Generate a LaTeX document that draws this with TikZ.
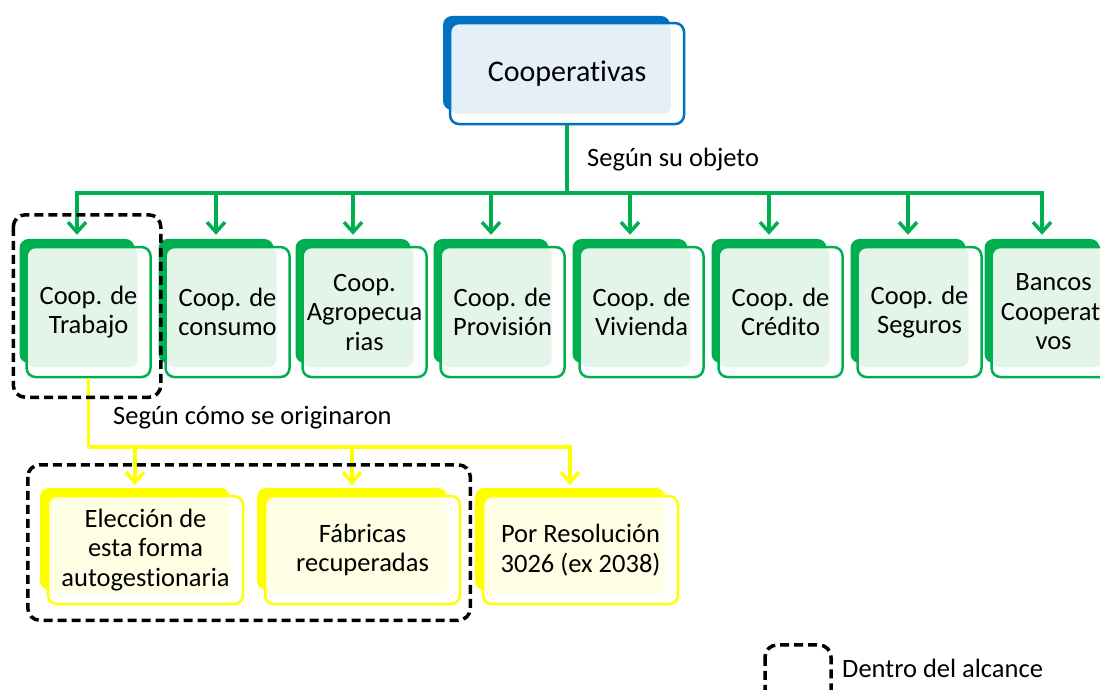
\documentclass[tikz,border=0pt]{standalone}
\usepackage{fontspec}
\setmainfont{Carlito}[Ligatures=NoCommon]
\usetikzlibrary{arrows.meta,positioning}

\definecolor{coopblue}{HTML}{0070C0}
\definecolor{coopbluefill}{HTML}{E5EFF8}
\definecolor{coopgreen}{HTML}{00B050}
\definecolor{coopgreenfill}{HTML}{E3F4E9}
\definecolor{coopyellow}{HTML}{FFFF00}
\definecolor{coopyellowfill}{HTML}{FFFFE6}

\tikzset{
  innerfill/.style={path picture={\fill[#1, rounded corners=8pt] (path picture bounding box.north west) rectangle ([shift={(-13pt,10pt)}]path picture bounding box.south east);}},
  topback/.style={fill=coopblue, rounded corners=9pt, minimum width=227pt, minimum height=94pt},
  topbox/.style={draw=coopblue, line width=2.5pt, fill=white, rounded corners=9pt, minimum width=234pt, minimum height=101pt, innerfill=coopbluefill, inner sep=2pt, font=\fontsize{30}{34}\selectfont},
  objback/.style={fill=coopgreen, rounded corners=9pt, minimum width=115pt, minimum height=124pt},
  objbox/.style={draw=coopgreen, line width=2.5pt, fill=white, rounded corners=9pt, minimum width=124pt, minimum height=130pt, innerfill=coopgreenfill, align=center, inner sep=2pt, font=\fontsize{26.5}{29.5}\selectfont},
  origback/.style={fill=coopyellow, rounded corners=9pt, minimum width=190pt, minimum height=102pt},
  origbox/.style={draw=coopyellow, line width=2.5pt, fill=white, rounded corners=9pt, minimum width=195pt, minimum height=108pt, innerfill=coopyellowfill, align=center, inner sep=2pt, font=\fontsize{26.5}{29.5}\selectfont},
  greenline/.style={draw=coopgreen, line width=3.5pt},
  greenarrow/.style={greenline, -{Straight Barb[length=10pt,width=18pt]}, shorten >=4pt},
  yellowline/.style={draw=coopyellow, line width=3.5pt},
  yellowarrow/.style={yellowline, -{Straight Barb[length=10pt,width=18pt]}, shorten >=3pt},
  scopebox/.style={draw=black, line width=3.5pt, dash pattern=on 9pt off 5pt, rounded corners=12pt},
  lbl/.style={inner sep=0pt, anchor=west, font=\fontsize{26.5}{29.5}\selectfont}
}

\begin{document}
\begin{tikzpicture}[x=1pt, y=1pt]
	\useasboundingbox (0,0) rectangle (1100,690);
	\clip (0,0) rectangle (1100,690);

	% root
	\node[topback] (top-b) at (556.5,627) {};
	\node[topbox, anchor=north west] (top) at ([shift={(6,-6)}]top-b.north west) {Cooperativas};

	% segun su objeto
	\node[objback] (trabajo-b) at (77,389) {};
	\node[objbox, anchor=north west] (trabajo) at ([shift={(6,-7)}]trabajo-b.north west) {Coop. de\\Trabajo};
	\node[objback] (consumo-b) at (216,389) {};
	\node[objbox, anchor=north west] (consumo) at ([shift={(6,-7)}]consumo-b.north west) {Coop. de\\consumo};
	\node[objback] (agro-b) at (353,389) {};
	\node[objbox, anchor=north west] (agro) at ([shift={(6,-7)}]agro-b.north west) {Coop.\\Agropecua\\rias};
	\node[objback] (provision-b) at (491,389) {};
	\node[objbox, anchor=north west] (provision) at ([shift={(6,-7)}]provision-b.north west) {Coop. de\\Provisión};
	\node[objback] (vivienda-b) at (630,389) {};
	\node[objbox, anchor=north west] (vivienda) at ([shift={(6,-7)}]vivienda-b.north west) {Coop. de\\Vivienda};
	\node[objback] (credito-b) at (769,389) {};
	\node[objbox, anchor=north west] (credito) at ([shift={(6,-7)}]credito-b.north west) {Coop. de\\Crédito};
	\node[objback] (seguros-b) at (908,389) {};
	\node[objbox, anchor=north west] (seguros) at ([shift={(6,-7)}]seguros-b.north west) {Coop. de\\Seguros};
	\node[objback] (bancos-b) at (1042,389) {};
	\node[objbox, anchor=north west] (bancos) at ([shift={(6,-7)}]bancos-b.north west) {Bancos\\Cooperati\\vos};

	\coordinate (gbus) at (0,497);
	\draw[greenline] (top.south) -- (top.south |- gbus);
	\draw[greenarrow] (top.south |- gbus) -| (trabajo-b.north);
	\draw[greenarrow] (top.south |- gbus) -| (consumo-b.north);
	\draw[greenarrow] (top.south |- gbus) -| (agro-b.north);
	\draw[greenarrow] (top.south |- gbus) -| (provision-b.north);
	\draw[greenarrow] (top.south |- gbus) -| (vivienda-b.north);
	\draw[greenarrow] (top.south |- gbus) -| (credito-b.north);
	\draw[greenarrow] (top.south |- gbus) -| (seguros-b.north);
	\draw[greenarrow] (top.south |- gbus) -| (bancos-b.north);
	\node[lbl] (objeto) at (587,530) {Según su objeto};

	% segun como se originaron
	\node[origback] (eleccion-b) at (135,151) {};
	\node[origbox, anchor=north west] (eleccion) at ([shift={(7,-7)}]eleccion-b.north west) {Elección de\\esta forma\\autogestionaria};
	\node[origback] (fabricas-b) at (352,151) {};
	\node[origbox, anchor=north west] (fabricas) at ([shift={(7,-7)}]fabricas-b.north west) {Fábricas\\recuperadas};
	\node[origback] (resolucion-b) at (570,151) {};
	\node[origbox, anchor=north west] (resolucion) at ([shift={(7,-7)}]resolucion-b.north west) {Por Resolución\\3026 (ex 2038)};

	\coordinate (ybus) at (0,243);
	\draw[yellowline] (trabajo.south) -- (trabajo.south |- ybus);
	\draw[yellowarrow] (trabajo.south |- ybus) -| (eleccion-b.north);
	\draw[yellowarrow] (trabajo.south |- ybus) -| (fabricas-b.north);
	\draw[yellowarrow] (trabajo.south |- ybus) -| (resolucion-b.north);
	\node[lbl] (origen) at (113,272) {Según cómo se originaron};

	% alcance
	\draw[scopebox] ([shift={(-6,24)}]trabajo-b.north west) rectangle ([shift={(9,-19)}]trabajo.south east);
	\draw[scopebox] ([shift={(-12,23)}]eleccion-b.north west) rectangle ([shift={(9,-15)}]fabricas.south east);

	% legend
	\draw[scopebox] (765,45) rectangle (831,-20);
	\node[lbl] (alcance) at (842,22) {Dentro del alcance};
\end{tikzpicture}
\end{document}
